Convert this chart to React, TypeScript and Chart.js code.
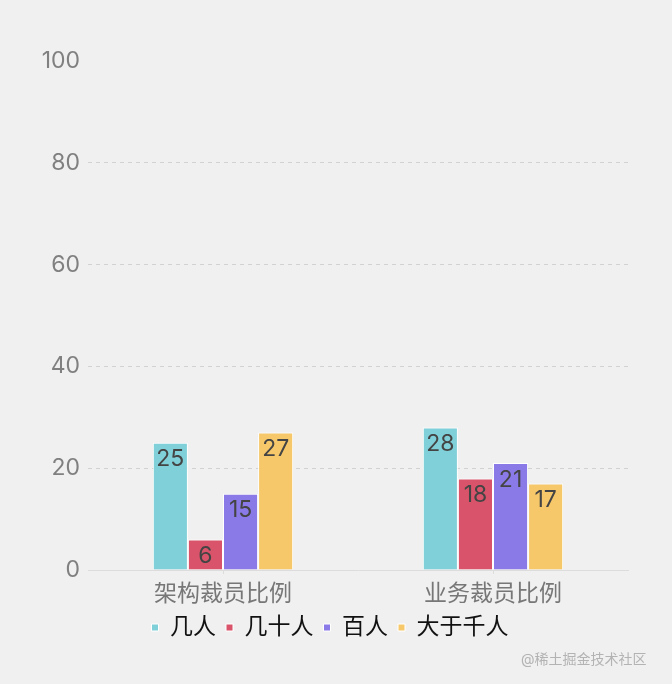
import { useEffect, useRef } from "react";
import { Chart, registerables } from "chart.js";

Chart.register(...registerables);

const categories = ["架构裁员比例", "业务裁员比例"];
const seriesNames = ["几人", "几十人", "百人", "大于千人"];
const seriesColors = ["#80d0d9", "#d9546a", "#8a7ae8", "#f6c86a"];
const fewPeople = [25, 28];
const dozens = [6, 18];
const hundreds = [15, 21];
const overThousand = [27, 17];
const yTicks = [0, 20, 40, 60, 80, 100];

const FONT = "Inter, 'Noto Sans CJK SC', sans-serif";

const barLabels = {
  id: "barLabels",
  afterDatasetsDraw(chart: any) {
    const ctx = chart.ctx;
    ctx.save();
    ctx.font = `23px ${FONT}`;
    ctx.fillStyle = "#444";
    ctx.textAlign = "center";
    ctx.textBaseline = "top";
    chart.data.datasets.forEach((ds: any, i: number) => {
      chart.getDatasetMeta(i).data.forEach((el: any, j: number) => {
        ctx.fillText(String(ds.data[j]), el.x, el.y + 5);
      });
    });
    ctx.restore();
  },
};

export default function App() {
  const canvasRef = useRef<HTMLCanvasElement>(null);

  useEffect(() => {
    document.body.style.margin = "0";
    document.body.style.background = "#f0f0f0";
    const ctx = canvasRef.current!.getContext("2d")!;
    const values = [fewPeople, dozens, hundreds, overThousand];

    const chart = new Chart(ctx, {
      type: "bar",
      data: {
        labels: categories,
        datasets: seriesNames.map((name, i) => ({
          label: name,
          data: values[i],
          backgroundColor: seriesColors[i],
          borderColor: "#ffffff",
          borderWidth: 1,
          categoryPercentage: 0.52,
          barPercentage: 1,
        })),
      },
      options: {
        animation: false,
        responsive: false,
        layout: { padding: { top: 61, right: 44, bottom: 35, left: 32 } },
        scales: {
          x: {
            grid: {
              display: true,
              drawOnChartArea: false,
              offset: false,
              tickLength: 4,
              color: "#dcdcdc",
            },
            border: { color: "#dcdcdc", width: 1 },
            ticks: { color: "#777", font: { size: 23, family: FONT }, padding: 6 },
            afterFit: (scale: any) => {
              scale.height = 36;
            },
          },
          y: {
            min: 0,
            max: 100,
            afterBuildTicks: (scale: any) => {
              scale.ticks = yTicks.map((v) => ({ value: v }));
            },
            grid: {
              drawTicks: false,
              color: (c: any) =>
                c.tick && (c.tick.value === 0 || c.tick.value === 100) ? "rgba(0,0,0,0)" : "#d2d2d2",
            },
            border: { display: false, dash: [4, 4] },
            ticks: { color: "#808080", font: { size: 23, family: FONT }, padding: 8 },
            afterFit: (scale: any) => {
              scale.width = 56;
            },
          },
        },
        plugins: {
          legend: {
            position: "bottom",
            labels: {
              boxWidth: 7,
              boxHeight: 7,
              padding: 10,
              color: "#111",
              font: { size: 23, family: FONT },
            },
          },
          tooltip: { enabled: false },
        },
      },
      plugins: [barLabels],
    });

    return () => {
      chart.destroy();
    };
  }, []);

  return (
    <div style={{ position: "relative", width: 672, height: 684, background: "#f0f0f0" }}>
      <canvas ref={canvasRef} width={672} height={684} />
      <div
        style={{
          position: "absolute",
          left: 521,
          top: 648,
          fontSize: 14,
          color: "#b3b3b3",
          fontFamily: FONT,
          whiteSpace: "nowrap",
        }}
      >
        @稀土掘金技术社区
      </div>
    </div>
  );
}
